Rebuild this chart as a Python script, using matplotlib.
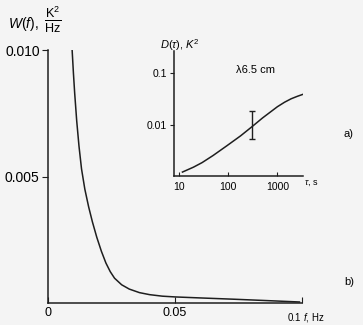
import numpy as np
import matplotlib
matplotlib.use('Agg')
import matplotlib.pyplot as plt

plt.rcParams['font.family'] = ['Liberation Sans', 'DejaVu Sans']
plt.rcParams['mathtext.fontset'] = 'custom'
plt.rcParams['mathtext.rm'] = 'Liberation Sans'
plt.rcParams['mathtext.it'] = 'Liberation Sans:italic'

# spectrum W(f), panel b)
freq = [0.0095, 0.0100, 0.0105, 0.0113, 0.0122, 0.0132, 0.0145, 0.0160,
        0.0175, 0.0192, 0.0210, 0.0228, 0.0245, 0.0262, 0.0290, 0.0320,
        0.0360, 0.0400, 0.0450, 0.0500, 0.0600, 0.0730, 0.0850, 0.0990]
spec = [0.0100, 0.0091, 0.0083, 0.0072, 0.0062, 0.0053, 0.0045, 0.0038,
        0.0032, 0.0026, 0.00205, 0.00158, 0.00124, 0.00098, 0.00072, 0.00055,
        0.00041, 0.00033, 0.00027, 0.00024, 0.00020, 0.00015, 0.00010, 0.00004]
xticks = [0, 0.05, 0.1]
xtick_labels = ['0', '0.05', '0.1']
yticks = [0.005, 0.010]
ytick_labels = ['0.005', '0.010']

# structure function D(tau), panel a)
tau = [12, 20, 30, 50, 95, 180, 302, 501, 1000, 1400, 1900, 2500, 3300]
dstruct = [0.00125, 0.00155, 0.0019, 0.0026, 0.0040, 0.0062, 0.0092,
           0.0137, 0.0225, 0.0275, 0.0320, 0.0355, 0.039]
err_tau = 300
err_mid = 0.0092
err_lo = 0.0054
err_hi = 0.0186
in_xticks = [10, 100, 1000]
in_xtick_labels = ['10', '100', '1000']
in_yticks = [0.01, 0.1]
in_ytick_labels = ['0.01', '0.1']

bg = '#f4f4f4'
ink = '#1e1e1e'

fig = plt.figure(figsize=(3.63, 3.25), dpi=100, facecolor=bg)

# main plot
ax = fig.add_axes([48/363, 22/325, 254/363, 253/325])
ax.set_facecolor(bg)
ax.plot(freq, spec, color=ink, lw=1.1)
ax.set_xlim(0, 0.1)
ax.set_ylim(0, 0.010)
for s in ['top', 'right']:
    ax.spines[s].set_visible(False)
for s in ['left', 'bottom']:
    ax.spines[s].set_color(ink)
    ax.spines[s].set_linewidth(1.1)
ax.set_xticks(xticks)
ax.set_xticklabels(xtick_labels[:-1] + [''], fontsize=9)
ax.set_yticks(yticks)
ax.set_yticklabels(ytick_labels, fontsize=10)
ax.tick_params(axis='x', direction='in', length=4, pad=3, color=ink)
ax.tick_params(axis='y', direction='out', length=4, pad=2, color=ink)
ax.text(xticks[-1] - 0.0003, -0.00058, xtick_labels[-1], fontsize=7, ha='right', va='center')
ax.text(xticks[-1] + 0.0005, -0.00058, '$f$, Hz', fontsize=7, ha='left', va='center')

fig.text(8/363, 1 - 24/325, '$W(f),$', fontsize=10, ha='left', va='center')
fig.text(53/363, 1 - 20/325, r'$\frac{\mathrm{K}^2}{\mathrm{Hz}}$', fontsize=13,
         ha='center', va='center')

fig.text(349/363, 1 - 134/325, 'a)', fontsize=8, ha='center', va='center')
fig.text(349/363, 1 - 282/325, 'b)', fontsize=8, ha='center', va='center')

# inset
axi = fig.add_axes([174/363, 1 - 176/325, 129/363, 125/325])
axi.patch.set_alpha(0)
axi.set_xscale('log')
axi.set_yscale('log')
axi.plot(tau, dstruct, color=ink, lw=1.1)
axi.errorbar([err_tau], [err_mid], yerr=[[err_mid - err_lo], [err_hi - err_mid]],
             color=ink, lw=1.0, capsize=2.5, capthick=1.0, fmt='none')
axi.set_xlim(8.1, 3300)
axi.set_ylim(0.00105, 0.265)
for s in ['top', 'right']:
    axi.spines[s].set_visible(False)
for s in ['left', 'bottom']:
    axi.spines[s].set_color(ink)
    axi.spines[s].set_linewidth(1.1)
axi.set_xticks(in_xticks)
axi.set_xticklabels(in_xtick_labels, fontsize=7.5)
axi.set_yticks(in_yticks)
axi.set_yticklabels(in_ytick_labels, fontsize=7.5)
axi.minorticks_off()
axi.tick_params(axis='x', direction='in', length=3, pad=4, color=ink)
axi.tick_params(axis='y', direction='out', length=3, pad=2, color=ink)
axi.text(1.01, -0.02, r'$\tau$, s', transform=axi.transAxes, fontsize=6.5,
         ha='left', va='top')
fig.text(180/363, 1 - 45/325, r'$D(\tau)$, $K^2$', fontsize=8, ha='center', va='center')
fig.text(255/363, 1 - 70/325, 'λ6.5 cm', fontsize=8, ha='center', va='center')

fig.savefig('out.png', dpi=100, facecolor=bg)
